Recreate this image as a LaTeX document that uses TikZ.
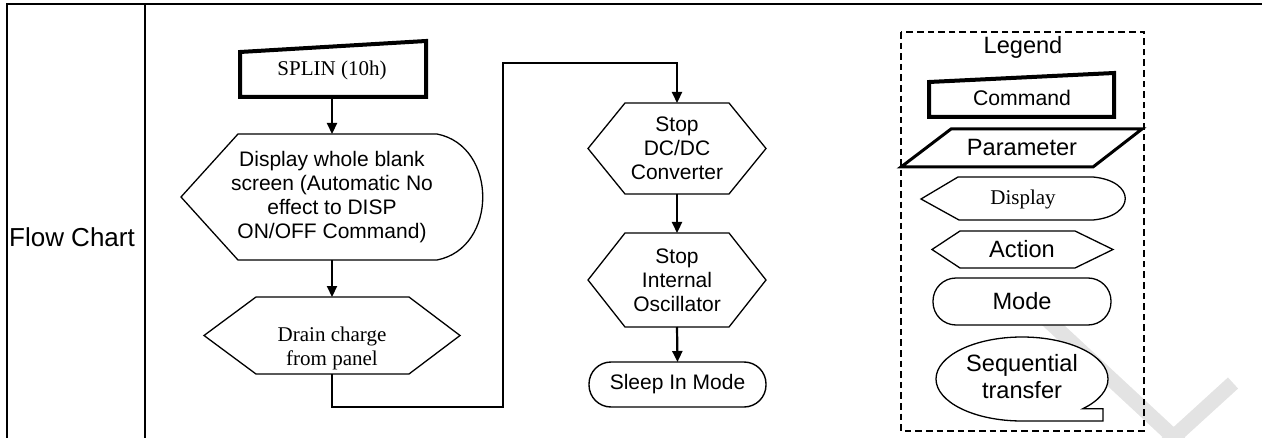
\documentclass[tikz,border=0pt]{standalone}
\usepackage{fontspec}
\setmainfont{Liberation Sans}
\newfontfamily\timesfont{Liberation Serif}
\usetikzlibrary{arrows.meta}

\tikzset{
  frame/.style={line width=1.3pt},
  cmdline/.style={line width=2pt, fill=white},
  parline/.style={line width=1.5pt, fill=white},
  shapeline/.style={line width=0.65pt, fill=white},
  flowline/.style={line width=1.1pt},
  arrowline/.style={line width=1.1pt, -{Triangle[length=5.5pt,width=5pt]}},
  box/.style={inner sep=0pt, outer sep=0pt, align=center, font=\fontsize{10.5}{12}\selectfont},
  serif/.style={align=center, font=\timesfont\fontsize{10.5}{12}\selectfont},
  legtxt/.style={inner sep=0pt, align=center, font=\fontsize{11.8}{13.5}\selectfont},
}

\begin{document}
\begin{tikzpicture}
[x=0.5pt, y=-0.5pt]
\useasboundingbox (0,0) rectangle (1262,438);
% watermark
\draw [line width=7.5pt, gray!22] (1040,313) -- (1180,443);
\draw [line width=7.5pt, gray!22] (1233,383) -- (1165,445);
% table
\draw [frame] (7,438) -- (7,4) -- (1262,4);
\draw [frame] (145,4) -- (145,438);
\node [font=\fontsize{13}{15}\selectfont] (title) at (72,237) {Flow Chart};
% left column
\draw [cmdline] (240,52) -- (426,41) -- (426,97) -- (240,97) -- cycle;
\node [box, serif, minimum width=93pt, minimum height=26.5pt] (splin) at (332,70.5) {SPLIN (10h)};
\draw [shapeline] (238,134) -- (437,134) .. controls (498,146) and (498,248) .. (437,260) -- (238,260) -- (181,197) -- cycle;
\node [box, minimum width=151pt, minimum height=63pt] (disp) at (332,197) {Display whole blank\\screen (Automatic No\\effect to DISP\\ON/OFF Command)};
\draw [shapeline] (204,335.5) -- (256,297) -- (409,297) -- (460,335.5) -- (409,374) -- (256,374) -- cycle;
\node [box, minimum width=128pt, minimum height=38.5pt] (drain) at (332,335.5) {};
\node [serif] (draintxt) at (332,348) {Drain charge\\from panel};
\draw [arrowline] (splin.south) -- (disp.north);
\draw [arrowline] (disp.south) -- (drain.north);
% right column
\draw [shapeline] (588,148.5) -- (625,103) -- (729,103) -- (766,148.5) -- (729,194) -- (625,194) -- cycle;
\node [box, minimum width=89pt, minimum height=45.5pt] (dcdc) at (677,148.5) {Stop\\DC/DC\\Converter};
\draw [shapeline] (588,280) -- (625,233) -- (729,233) -- (766,280) -- (729,327) -- (625,327) -- cycle;
\node [box, minimum width=89pt, minimum height=47pt] (osc) at (677,280) {Stop\\Internal\\Oscillator};
\node [box, draw, line width=0.7pt, rounded corners=11pt, minimum width=88.5pt, minimum height=22.5pt] (sleep) at (677.5,384.5) {Sleep In Mode};
\coordinate (loopb) at (503,407);
\coordinate (loopt) at (503,63);
\draw [flowline, -{Triangle[length=5.5pt,width=5pt]}] (drain.south) |- (loopb) -- (loopt) -| (dcdc.north);
\draw [arrowline] (dcdc.south) -- (osc.north);
\draw [arrowline] (osc.south) -- (sleep.north);
% legend
\draw [line width=0.7pt, dash pattern=on 3.3pt off 2pt] (901,32) rectangle (1144,431);
\node [legtxt] (legend) at (1023,47) {Legend};
\draw [cmdline] (929,82) -- (1114,73) -- (1114,117) -- (929,117) -- cycle;
\node [legtxt, font=\fontsize{10.6}{12}\selectfont] (cmd) at (1022,98) {Command};
\draw [parline] (951,129) -- (1142,129) -- (1093,167) -- (901,167) -- cycle;
\node [legtxt] (param) at (1022,147) {Parameter};
\draw [shapeline] (921,199) -- (958,177) -- (1093,177) .. controls (1136,181) and (1136,216) .. (1093,220) -- (959,220) -- cycle;
\node [serif] (dispkey) at (1023,199) {Display};
\draw [shapeline] (932,249.5) -- (960,231) -- (1075,231) -- (1113,249.5) -- (1075,268) -- (960,268) -- cycle;
\node [legtxt] (action) at (1022,249) {Action};
\node [legtxt, draw, line width=0.65pt, fill=white, rounded corners=11.5pt, minimum width=89pt, minimum height=23.5pt] (mode) at (1022,301.5) {Mode};
\draw [shapeline] (1022,421) arc[start angle=90, end angle=405, x radius=86, y radius=42] -- (1103,408.7) -- (1103,421) -- cycle;
\node [legtxt] (seq) at (1022,377) {Sequential\\transfer};
\end{tikzpicture}
\end{document}
